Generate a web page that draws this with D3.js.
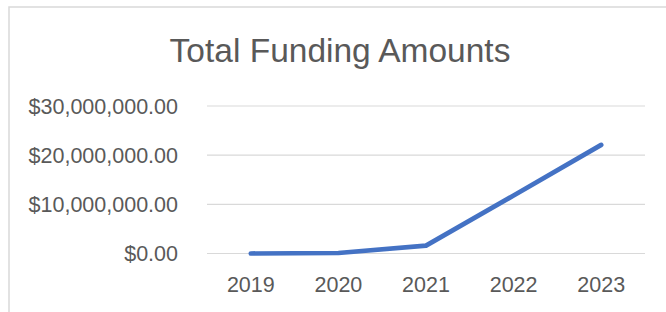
<!DOCTYPE html>
<html>
<meta charset="utf-8">
<title>Total Funding Amounts</title>
<script src="https://d3js.org/d3.v7.min.js" charset="utf-8"></script>
<style>
	body { margin: 0; background: #fff; }
	text { font-family: "Liberation Sans", Arial, sans-serif; fill: #595959; }
	.grid line { stroke: #d9d9d9; stroke-width: 1.2; }
	.frame { fill: none; stroke: #d9d9d9; stroke-width: 1.5; }
</style>
<body>
<script>

	var years = ["2019", "2020", "2021", "2022", "2023"];
	var funding = [0, 100000, 1600000, 11800000, 22100000];
	var yTicks = [0, 10000000, 20000000, 30000000];

	var width = 666, height = 312;
	var plot = {left: 207, right: 645, top: 106, bottom: 253.5};

	var svg = d3.select("body").append("svg")
		.attr("width", width)
		.attr("height", height);

	// chart frame (right and bottom edges fall outside the picture)
	svg.append("rect")
		.attr("class", "frame")
		.attr("x", 9)
		.attr("y", 7)
		.attr("width", 700)
		.attr("height", 340);

	svg.append("text")
		.attr("x", 340)
		.attr("y", 62)
		.attr("text-anchor", "middle")
		.style("font-size", "33.5px")
		.text("Total Funding Amounts");

	var x = d3.scalePoint().domain(years).range([plot.left, plot.right]).padding(0.5);
	var y = d3.scaleLinear().domain([0, 30000000]).range([plot.bottom, plot.top]);

	var fmt = d3.format("$,.2f");

	var grid = svg.append("g").attr("class", "grid");
	grid.selectAll("line")
		.data(yTicks)
		.enter().append("line")
		.attr("x1", plot.left)
		.attr("x2", plot.right)
		.attr("y1", function(d) { return y(d); })
		.attr("y2", function(d) { return y(d); });

	svg.selectAll(".ylab")
		.data(yTicks)
		.enter().append("text")
		.attr("class", "ylab")
		.attr("x", 178)
		.attr("y", function(d) { return y(d); })
		.attr("dy", ".35em")
		.attr("text-anchor", "end")
		.style("font-size", "21.5px")
		.text(function(d) { return fmt(d); });

	svg.selectAll(".xlab")
		.data(years)
		.enter().append("text")
		.attr("class", "xlab")
		.attr("x", function(d) { return x(d); })
		.attr("y", 292)
		.attr("text-anchor", "middle")
		.style("font-size", "21.5px")
		.text(function(d) { return d; });

	var line = d3.line()
		.x(function(d, i) { return x(years[i]); })
		.y(function(d) { return y(d); });

	svg.append("path")
		.datum(funding)
		.attr("d", line)
		.attr("fill", "none")
		.attr("stroke", "#4472C4")
		.attr("stroke-width", 4.7)
		.attr("stroke-linecap", "round")
		.attr("stroke-linejoin", "round");

</script>
</body>
</html>
